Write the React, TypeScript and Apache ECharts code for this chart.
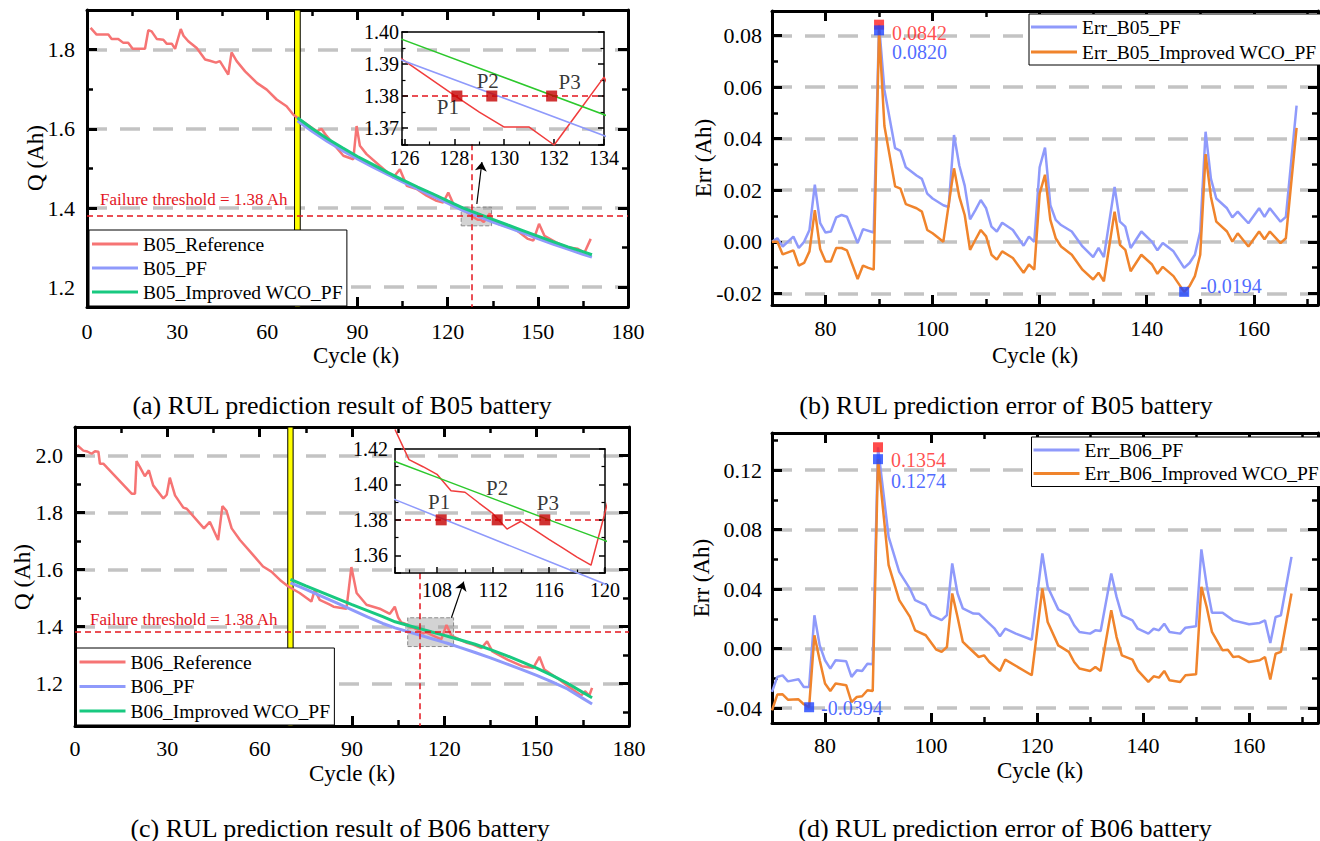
import React, { useEffect, useRef } from "react";
import * as echarts from "echarts";

const FONT = "Liberation Serif";

// ---------------- data ----------------
const THRESHOLD = 1.38;
const PRED_START = 70;
const B05_EOL = 128;
const B06_EOL = 112;

const B05_REF = [[1.2,1.855],[3.2,1.838],[7.1,1.838],[8.2,1.827],[10.4,1.827],[12.1,1.817],[13.7,1.817],[15.2,1.802],[19.3,1.802],[20.4,1.849],[21.5,1.846],[23.2,1.827],[25.4,1.825],[26.5,1.815],[28.2,1.815],[29.3,1.802],[31.2,1.852],[32.1,1.835],[33.7,1.821],[36.5,1.804],[39.3,1.775],[40.9,1.772],[42.9,1.767],[44.2,1.771],[47,1.737],[48.1,1.793],[49.8,1.771],[52.6,1.745],[56.5,1.716],[59.8,1.699],[63.1,1.674],[66.4,1.657],[68.6,1.636],[70.3,1.626],[73,1.612],[76.5,1.594],[78,1.6],[79.7,1.582],[85.3,1.532],[88.6,1.523],[89.7,1.607],[90.8,1.557],[93,1.536],[97.5,1.506],[101.9,1.477],[104.1,1.498],[106.4,1.456],[109.7,1.448],[113,1.431],[116.3,1.418],[118.5,1.414],[120.2,1.439],[121.9,1.41],[124,1.402],[125,1.3966],[126,1.391],[127,1.3856],[128,1.3802],[129,1.375],[130,1.3703],[131,1.3703],[132,1.3647],[133,1.3753],[134,1.3859],[135,1.3703],[136.7,1.36],[142.4,1.347],[146.7,1.322],[148.5,1.318],[150.4,1.36],[152.2,1.33],[155.9,1.314],[159.6,1.301],[163.3,1.297],[165.5,1.287],[167.6,1.322]];
const B05_PF = [[70,1.62],[75,1.593],[80,1.568],[85,1.545],[90,1.524],[95,1.504],[100,1.485],[105,1.466],[110,1.448],[115,1.43],[120,1.412],[125,1.3938],[130,1.3793],[135,1.3647],[140,1.351],[145,1.337],[150,1.323],[155,1.309],[160,1.296],[165,1.283],[168,1.276]];
const B05_WCO = [[70,1.628],[75,1.6],[80,1.575],[85,1.552],[90,1.53],[95,1.51],[100,1.49],[105,1.471],[110,1.453],[115,1.436],[120,1.418],[125,1.4003],[130,1.3858],[135,1.3713],[140,1.357],[145,1.343],[150,1.329],[155,1.315],[160,1.302],[165,1.29],[168,1.282]];

const B06_REF = [[0.8,2.035],[2.7,2.017],[4,2.014],[5.4,2.006],[6.5,2.015],[7.6,2.013],[8.1,1.971],[9.2,1.971],[18.4,1.866],[19.5,1.866],[20,1.98],[21.1,1.959],[22.7,1.927],[24,1.948],[25.4,1.895],[28.7,1.849],[29.8,1.862],[30.8,1.922],[32.5,1.86],[35.2,1.817],[36.3,1.813],[41.9,1.744],[43.8,1.767],[46.5,1.703],[47.9,1.822],[49.2,1.806],[50.9,1.744],[53.6,1.703],[57.9,1.65],[61.1,1.61],[63.8,1.592],[66.6,1.563],[69.3,1.54],[73,1.517],[76.8,1.487],[77.9,1.528],[79.5,1.493],[82.8,1.476],[84,1.469],[88.2,1.462],[89.8,1.608],[91.5,1.517],[94.7,1.476],[99,1.462],[102.3,1.444],[103.9,1.469],[105,1.431],[106,1.414],[107,1.41],[108,1.4057],[109,1.3964],[110,1.3956],[111,1.3895],[112,1.3835],[113,1.3748],[114,1.3792],[115,1.3742],[116,1.369],[117,1.364],[118,1.359],[119,1.3544],[120.7,1.405],[122.3,1.367],[125,1.353],[127.3,1.342],[129.3,1.336],[132.1,1.324],[133.9,1.347],[135.6,1.312],[140.5,1.283],[145.3,1.26],[148.9,1.254],[150.9,1.293],[152.5,1.248],[157.3,1.213],[160.9,1.184],[164.5,1.157],[165.7,1.172],[167.1,1.157],[168,1.184]];
const B06_PF = [[70,1.553],[75,1.53],[80,1.506],[85,1.482],[90,1.458],[95,1.433],[100,1.41],[104,1.3946],[108,1.3819],[112,1.3692],[116,1.3565],[120,1.3438],[121,1.3407],[125,1.326],[130,1.308],[135,1.289],[140,1.269],[145,1.249],[150,1.228],[155,1.205],[160,1.18],[165,1.147],[168,1.127]];
const B06_WCO = [[70,1.565],[75,1.542],[80,1.52],[85,1.498],[90,1.476],[95,1.455],[100,1.434],[104,1.4159],[108,1.404],[112,1.392],[116,1.38],[120,1.3683],[121,1.3653],[125,1.353],[130,1.337],[135,1.318],[140,1.298],[145,1.276],[150,1.253],[155,1.228],[160,1.2],[165,1.168],[168,1.149]];

const B05_CROSS = [128.1, 129.5, 131.9];
const B06_CROSS = [108.3, 112.3, 115.7];
const CROSS_NAMES = ["P1", "P2", "P3"];

const ERR_B05_PF = [[70,0],[71,0.0014],[72,-0.0018],[74,0.002],[75,-0.0024],[76,0],[77,0.0046],[78,0.0222],[79,0.0072],[80,0.0036],[81,0.004],[82,0.0095],[83,0.0104],[84,0.0097],[86,-0.0005],[87,0.0049],[89,0.0036],[90,0.0842],[91,0.0589],[93,0.0363],[94,0.0353],[95,0.0289],[97,0.0257],[98,0.0244],[99,0.0187],[100,0.0168],[102,0.0142],[103,0.0135],[104,0.0414],[105,0.0295],[106,0.0218],[107,0.0087],[108,0.0123],[109,0.0162],[110,0.013],[111,0.0059],[112,0.004],[113,0.0074],[115,0.0046],[117,-0.0015],[118,0.002],[119,0],[120,0.0289],[121,0.0365],[122,0.0142],[123,0.0085],[124,0.0065],[126,0.004],[128,-0.0018],[130,-0.0059],[131,-0.0024],[132,-0.0059],[134,0.0213],[135,0.0078],[136,0.0059],[137,-0.0024],[139,0.004],[141,0],[142,-0.0033],[143,-0.0005],[145,-0.0037],[147,-0.0101],[148,-0.0082],[149,-0.005],[150,0.004],[151,0.0427],[152,0.0244],[153,0.0168],[155,0.013],[156,0.0095],[157,0.0117],[159,0.0072],[161,0.013],[162,0.0097],[163,0.013],[165,0.0078],[166,0.0097],[168,0.0528]];
const ERR_B05_WCO = [[70,0],[71,0],[72,-0.0049],[73,-0.0041],[74,-0.0033],[75,-0.0092],[76,-0.0082],[77,-0.0037],[78,0.0123],[79,-0.0028],[80,-0.0076],[81,-0.0076],[82,-0.0024],[83,-0.0024],[84,-0.0033],[85,-0.0088],[86,-0.0144],[87,-0.0092],[88,-0.0101],[89,-0.0108],[90,0.082],[91,0.0449],[93,0.0215],[94,0.0206],[95,0.0146],[97,0.013],[98,0.0117],[99,0.0046],[100,0.0033],[102,0],[104,0.0285],[105,0.0174],[106,0.0104],[107,-0.0031],[108,0.0008],[109,0.0046],[110,0.0021],[111,-0.005],[112,-0.0069],[113,-0.0037],[115,-0.0063],[117,-0.012],[118,-0.0088],[119,-0.0108],[120,0.0187],[121,0.026],[122,0.0085],[123,0.0014],[124,-0.0018],[126,-0.005],[128,-0.0108],[130,-0.0146],[131,-0.012],[132,-0.0153],[134,0.0117],[135,-0.0012],[136,-0.0031],[137,-0.0114],[139,-0.005],[141,-0.0088],[142,-0.0124],[143,-0.0097],[145,-0.0133],[147,-0.0194],[148,-0.0172],[149,-0.0133],[150,-0.005],[151,0.034],[152,0.0174],[153,0.0078],[155,0.004],[156,0.0001],[157,0.0033],[159,-0.0018],[161,0.004],[162,0.001],[163,0.004],[165,-0.0005],[166,0.0014],[168,0.0442]];
const ERR_B06_PF = [[70,-0.0291],[71,-0.019],[72,-0.018],[73,-0.022],[75,-0.0206],[76,-0.0258],[77,-0.0258],[78,0.0224],[79,0.0022],[80,-0.0078],[81,-0.0134],[82,-0.0078],[84,-0.0085],[85,-0.019],[86,-0.0146],[87,-0.015],[88,-0.0101],[89,-0.0105],[90,0.1354],[92,0.0752],[94,0.0516],[96,0.0404],[97,0.0326],[99,0.0292],[100,0.0225],[102,0.0192],[103,0.0225],[104,0.0573],[105,0.0371],[106,0.027],[108,0.0236],[109,0.0235],[111,0.0168],[112,0.0134],[113,0.0083],[114,0.0134],[116,0.0101],[119,0.006],[121,0.064],[122,0.0416],[124,0.0264],[126,0.0225],[127,0.0157],[128,0.0112],[130,0.0101],[131,0.0123],[132,0.0119],[134,0.0505],[135,0.0348],[136,0.0224],[138,0.019],[139,0.0134],[141,0.0101],[142,0.0134],[143,0.0123],[144,0.0168],[145,0.0112],[147,0.0101],[148,0.0141],[150,0.015],[151,0.0667],[152,0.0427],[153,0.0241],[155,0.0241],[157,0.019],[160,0.0164],[162,0.0173],[163,0.019],[164,0.0038],[165,0.0213],[166,0.0224],[168,0.0617]];
const ERR_B06_WCO = [[70,-0.0415],[71,-0.0309],[72,-0.0307],[73,-0.0343],[75,-0.0341],[76,-0.0374],[77,-0.0394],[78,0.009],[79,-0.0078],[80,-0.0235],[81,-0.0285],[82,-0.0235],[84,-0.0246],[85,-0.0359],[86,-0.0325],[87,-0.032],[88,-0.028],[89,-0.0285],[90,0.1274],[92,0.0561],[94,0.0326],[96,0.0215],[97,0.0123],[99,0.009],[101,-0.0007],[102,-0.0022],[103,0.0011],[104,0.0371],[105,0.0213],[106,0.0045],[107,0.0011],[109,-0.0056],[110,-0.0045],[111,-0.009],[113,-0.015],[114,-0.0074],[119,-0.0179],[121,0.0405],[122,0.0179],[124,0.0022],[126,-0.0022],[127,-0.009],[128,-0.0134],[130,-0.015],[131,-0.0123],[132,-0.015],[134,0.0258],[135,0.0078],[136,-0.0045],[138,-0.0074],[139,-0.0146],[141,-0.0224],[142,-0.0186],[143,-0.0195],[144,-0.015],[145,-0.0213],[147,-0.0224],[148,-0.0179],[150,-0.0173],[151,0.0416],[152,0.028],[153,0.0112],[155,-0.0011],[156,-0.0007],[157,-0.0056],[158,-0.0052],[160,-0.009],[162,-0.0078],[163,-0.0056],[164,-0.0208],[165,-0.0034],[166,-0.0022],[168,0.0371]];

const B05_ERR_MARKS = [[90, 0.0842], [90, 0.082], [147, -0.0194]];
const B06_ERR_MARKS = [[90, 0.1354], [90, 0.1274], [77, -0.0394]];

const CAPTIONS = [
  "(a) RUL prediction result of B05 battery",
  "(b) RUL prediction error of B05 battery",
  "(c) RUL prediction result of B06 battery",
  "(d) RUL prediction error of B06 battery",
];

// ---------------- styles / layout ----------------
const C_REF = "#f67474";
const C_PF = "#8f9afb";
const C_WCO = "#18c980";
const C_ORANGE = "#f0842c";
const C_THR = "#e3161e";
const C_MARK_RED = "#ff1f1f";
const C_MARK_BLUE = "#1f45ff";

function axis(gridIndex: number, position: string, range: number[], o: any = {}) {
  const inset = !!o.inset;
  return {
    type: "value",
    gridIndex,
    position,
    min: range[0],
    max: range[1],
    minInterval: range[2],
    maxInterval: range[2],
    axisLine: { show: true, onZero: false, lineStyle: { color: "#000", width: inset ? 1.5 : 3 } },
    axisTick: { show: o.ticks !== false, inside: true, length: inset ? 6 : 10, lineStyle: { color: "#000", width: inset ? 1.5 : 3 } },
    minorTick: { show: o.ticks !== false && !!o.minor, splitNumber: 2, length: inset ? 3.5 : 6, lineStyle: { color: "#000", width: inset ? 1.2 : 2.5 } },
    axisLabel: o.labels
      ? { show: true, margin: o.margin, color: "#000", fontFamily: FONT, fontSize: inset ? 20 : 22, showMinLabel: !!o.showMin, showMaxLabel: !!o.showMax, formatter: (v: number) => v.toFixed(o.dec || 0) }
      : { show: false },
    splitLine: o.split
      ? { show: true, showMinLine: false, showMaxLine: false, lineStyle: { color: "#c3c3c3", width: 3.5, type: [20, 13] } }
      : { show: false },
    minorSplitLine: { show: false },
    z: inset ? 5 : 0,
  };
}

const between = (d: number[][], a: number, b: number) => d.filter((p) => p[0] >= a && p[0] <= b);

function lineS(name: string, data: number[][], color: string, width: number, idx: number, extra: any = {}) {
  return {
    type: "line", name, data, xAxisIndex: idx, yAxisIndex: idx, symbol: "none", showSymbol: false,
    lineStyle: { color, width }, itemStyle: { color }, emphasis: { disabled: true }, silent: true, z: 3, ...extra,
  };
}

function thresholdMarks(eol: number, eolTop: number, yMin: number, yMax: number, rect: number[], arrow: number[], barW: number) {
  return {
    markLine: {
      silent: true, symbol: "none", symbolSize: 9, label: { show: false },
      lineStyle: { color: C_THR, width: 1.5, type: [6, 4] },
      data: [
        { yAxis: THRESHOLD },
        [{ coord: [eol, eolTop] }, { coord: [eol, yMin] }],
        [
          { coord: [arrow[0], arrow[1]], symbol: "none", lineStyle: { color: "#000", width: 1.2, type: "solid" } },
          { coord: [arrow[2], arrow[3]], symbol: "arrow" },
        ],
      ],
    },
    markArea: {
      silent: true,
      data: [
        [{ coord: [PRED_START - barW, yMin], itemStyle: { color: "#ffff00", borderColor: "#000", borderWidth: 1 } }, { coord: [PRED_START + barW, yMax] }],
        [{ coord: [rect[0], rect[1]], itemStyle: { color: "rgba(150,150,150,0.42)", borderColor: "#8a8a8a", borderWidth: 1, borderType: "dashed" } }, { coord: [rect[2], rect[3]] }],
      ],
    },
  };
}

function crossScatter(idx: number, xs: number[], offsets: number[][]) {
  return {
    type: "scatter", xAxisIndex: idx, yAxisIndex: idx, symbol: "rect", symbolSize: 11, silent: true, z: 8,
    itemStyle: { color: "#c40000" },
    data: xs.map((x, i) => ({
      value: [x, THRESHOLD],
      label: { show: true, position: "inside", offset: offsets[i], formatter: CROSS_NAMES[i], color: "#000", fontFamily: FONT, fontSize: 21 },
    })),
  };
}

function errMarks(idx: number, marks: number[][], offsets: number[][]) {
  const cols = [C_MARK_RED, C_MARK_BLUE, C_MARK_BLUE];
  return {
    type: "scatter", xAxisIndex: idx, yAxisIndex: idx, symbol: "rect", symbolSize: 10, silent: true, z: 8,
    data: marks.map((m, i) => ({
      value: m,
      itemStyle: { color: cols[i] },
      label: { show: true, position: "inside", align: "left", offset: offsets[i], color: cols[i], fontFamily: FONT, fontSize: 20, lineHeight: 18, formatter: (p: any) => p.value[1].toFixed(4) },
    })),
  };
}

function txt(text: string, x: number, y: number, size: number, extra: any = {}, rot = 0) {
  return {
    type: "text", x, y, rotation: rot, silent: true, z: 20,
    style: { text, fill: "#000", fontFamily: FONT, fontSize: size, align: "center", verticalAlign: "middle", textAlign: "center", textVerticalAlign: "middle", ...extra },
  };
}

function buildOption() {
  const R = {
    a: { x: [0, 180, 30], y: [1.15, 1.9, 0.2] },
    b: { x: [70, 172, 20], y: [-0.0245, 0.0895, 0.02] },
    c: { x: [0, 180, 30], y: [1.05, 2.1, 0.2] },
    d: { x: [70, 173, 20], y: [-0.05, 0.145, 0.04] },
    ia: { x: [125.9, 134, 2], y: [1.3647, 1.4, 0.01] },
    ic: { x: [105, 120, 4], y: [1.35, 1.42, 0.02] },
  };
  const grid = [
    { left: 87, top: 10, width: 541, height: 297 },
    { left: 772, top: 11, width: 546, height: 294 },
    { left: 75, top: 427, width: 554, height: 299 },
    { left: 772, top: 433, width: 546, height: 290 },
    { left: 402, top: 32, width: 202, height: 113, z: 5 },
    { left: 395, top: 449, width: 210, height: 124, z: 5 },
  ].map((g) => ({ ...g, show: false, containLabel: false, outerBoundsMode: "none" }));

  const xAxis = [
    axis(0, "bottom", R.a.x, { labels: true, minor: true, showMin: true, showMax: true, margin: 13 }),
    axis(0, "top", R.a.x, { minor: true }),
    axis(1, "bottom", R.b.x, { labels: true, minor: true, margin: 12 }),
    axis(1, "top", R.b.x, { minor: true }),
    axis(2, "bottom", R.c.x, { labels: true, minor: true, showMin: true, showMax: true, margin: 11 }),
    axis(2, "top", R.c.x, { minor: true }),
    axis(3, "bottom", R.d.x, { labels: true, minor: true, margin: 11 }),
    axis(3, "top", R.d.x, { minor: true }),
    axis(4, "bottom", R.ia.x, { inset: true, labels: true, minor: true, showMax: true, margin: 3 }),
    axis(4, "top", R.ia.x, { inset: true, ticks: false }),
    axis(5, "bottom", R.ic.x, { inset: true, labels: true, minor: true, showMax: true, margin: 7 }),
    axis(5, "top", R.ic.x, { inset: true, ticks: false }),
  ];
  const yAxis = [
    axis(0, "left", R.a.y, { labels: true, minor: true, split: true, dec: 1, margin: 12 }),
    axis(0, "right", R.a.y, { minor: true }),
    axis(1, "left", R.b.y, { labels: true, minor: true, split: true, dec: 2, margin: 10 }),
    axis(1, "right", R.b.y, { minor: true }),
    axis(2, "left", R.c.y, { labels: true, minor: true, split: true, dec: 1, margin: 12 }),
    axis(2, "right", R.c.y, { minor: true }),
    axis(3, "left", R.d.y, { labels: true, minor: true, split: true, dec: 2, margin: 10 }),
    axis(3, "right", R.d.y, { minor: true }),
    axis(4, "left", R.ia.y, { inset: true, labels: true, minor: true, showMax: true, dec: 2, margin: 3 }),
    axis(4, "right", R.ia.y, { inset: true, minor: true }),
    axis(5, "left", R.ic.y, { inset: true, labels: true, minor: true, showMax: true, dec: 2, margin: 7 }),
    axis(5, "right", R.ic.y, { inset: true, minor: true }),
  ];

  const insetThr = {
    markLine: { silent: true, symbol: "none", label: { show: false }, lineStyle: { color: C_THR, width: 1.5, type: [6, 4] }, data: [{ yAxis: THRESHOLD }] },
  };

  const series: any[] = [
    // (a)
    lineS("B05_Reference", B05_REF, C_REF, 2.5, 0, thresholdMarks(B05_EOL, 1.561, 1.15, 1.9, [124.5, 1.355, 134.6, 1.402], [129.7, 1.41, 131.4, 1.516], 0.95)),
    lineS("B05_PF", B05_PF, C_PF, 3, 0),
    lineS("B05_Improved WCO_PF", B05_WCO, C_WCO, 3, 0),
    lineS("zoomA_ref", between(B05_REF, 125, 135), "#f03c3c", 1.5, 8, { clip: false, z: 6, ...insetThr }),
    lineS("zoomA_pf", between(B05_PF, 125, 135), C_PF, 1.5, 8, { clip: false, z: 6 }),
    lineS("zoomA_wco", between(B05_WCO, 125, 135), "#2cc82c", 1.5, 8, { clip: false, z: 6 }),
    crossScatter(8, B05_CROSS, [[-9, 11], [-4, -15], [18, -14]]),
    // (b)
    lineS("Err_B05_PF", ERR_B05_PF, C_PF, 2.5, 2),
    lineS("Err_B05_Improved WCO_PF", ERR_B05_WCO, C_ORANGE, 2.5, 2),
    errMarks(2, B05_ERR_MARKS, [[13, 8], [13, 22], [16, -6]]),
    // (c)
    lineS("B06_Reference", B06_REF, C_REF, 2.5, 4, thresholdMarks(B06_EOL, 1.586, 1.05, 2.1, [108.1, 1.329, 123, 1.43], [122.3, 1.43, 126.3, 1.557], 0.87)),
    lineS("B06_PF", B06_PF, C_PF, 3, 4),
    lineS("B06_Improved WCO_PF", B06_WCO, C_WCO, 3, 4),
    lineS("zoomC_ref", between(B06_REF, 105, 121), "#f03c3c", 1.5, 10, { clip: false, z: 6, ...insetThr }),
    lineS("zoomC_pf", between(B06_PF, 104, 121), C_PF, 1.5, 10, { clip: false, z: 6 }),
    lineS("zoomC_wco", between(B06_WCO, 104, 121), "#2cc82c", 1.5, 10, { clip: false, z: 6 }),
    crossScatter(10, B06_CROSS, [[-2, -18], [0, -32], [3, -17]]),
    // (d)
    lineS("Err_B06_PF", ERR_B06_PF, C_PF, 2.5, 6),
    lineS("Err_B06_Improved WCO_PF", ERR_B06_WCO, C_ORANGE, 2.5, 6),
    errMarks(6, B06_ERR_MARKS, [[13, 13], [13, 22], [12, 1]]),
  ];

  const legendBase = {
    orient: "vertical", icon: "rect", itemWidth: 46, itemHeight: 3, itemGap: 4, backgroundColor: "#fff",
    borderColor: "#000", borderWidth: 1, selectedMode: false, z: 10,
    textStyle: { fontFamily: FONT, fontSize: 19.5, color: "#000", lineHeight: 20 },
  };
  const legend = [
    { ...legendBase, data: ["B05_Reference", "B05_PF", "B05_Improved WCO_PF"], left: 89, top: 230, padding: [4, 4, 4, 3] },
    { ...legendBase, data: ["Err_B05_PF", "Err_B05_Improved WCO_PF"], left: 1029, top: 14, itemGap: 5, padding: [3, 4, 3, 2] },
    { ...legendBase, data: ["B06_Reference", "B06_PF", "B06_Improved WCO_PF"], left: 76.5, top: 648, itemGap: 4.5, padding: [4, 4, 4, 3] },
    { ...legendBase, data: ["Err_B06_PF", "Err_B06_Improved WCO_PF"], left: 1031.5, top: 437, itemGap: 3.5, padding: [3, 4, 3, 2] },
  ];

  const graphic = {
    elements: [
      txt(CAPTIONS[0], 342, 405, 26),
      txt(CAPTIONS[1], 1006, 405, 26),
      txt(CAPTIONS[2], 340, 828, 26),
      txt(CAPTIONS[3], 1005, 828, 26),
      txt("Q (Ah)", 35, 158, 23, {}, Math.PI / 2),
      txt("Cycle (k)", 356, 355, 23),
      txt("Err (Ah)", 703, 158, 23, {}, Math.PI / 2),
      txt("Cycle (k)", 1035, 355, 23),
      txt("Q (Ah)", 22, 577, 23, {}, Math.PI / 2),
      txt("Cycle (k)", 352, 773, 23),
      txt("Err (Ah)", 701, 578, 23, {}, Math.PI / 2),
      txt("Cycle (k)", 1040, 770, 23),
      txt("Failure threshold = 1.38 Ah", 100, 199, 17, { fill: C_THR, align: "left", textAlign: "left" }),
      txt("Failure threshold = 1.38 Ah", 90, 619, 17, { fill: C_THR, align: "left", textAlign: "left" }),
    ],
  };

  return { animation: false, backgroundColor: "#fff", grid, xAxis, yAxis, series, legend, graphic, tooltip: { show: false } };
}

export default function App() {
  const ref = useRef<HTMLDivElement>(null);
  useEffect(() => {
    document.body.style.margin = "0";
    const chart = echarts.init(ref.current as HTMLDivElement, null, { renderer: "svg" });
    chart.setOption(buildOption() as any);
    return () => chart.dispose();
  }, []);
  return (
    <div style={{ position: "fixed", left: 0, top: 0, width: 1320, height: 841, background: "#fff", overflow: "hidden" }}>
      <div ref={ref} style={{ width: 1320, height: 841 }} />
    </div>
  );
}
